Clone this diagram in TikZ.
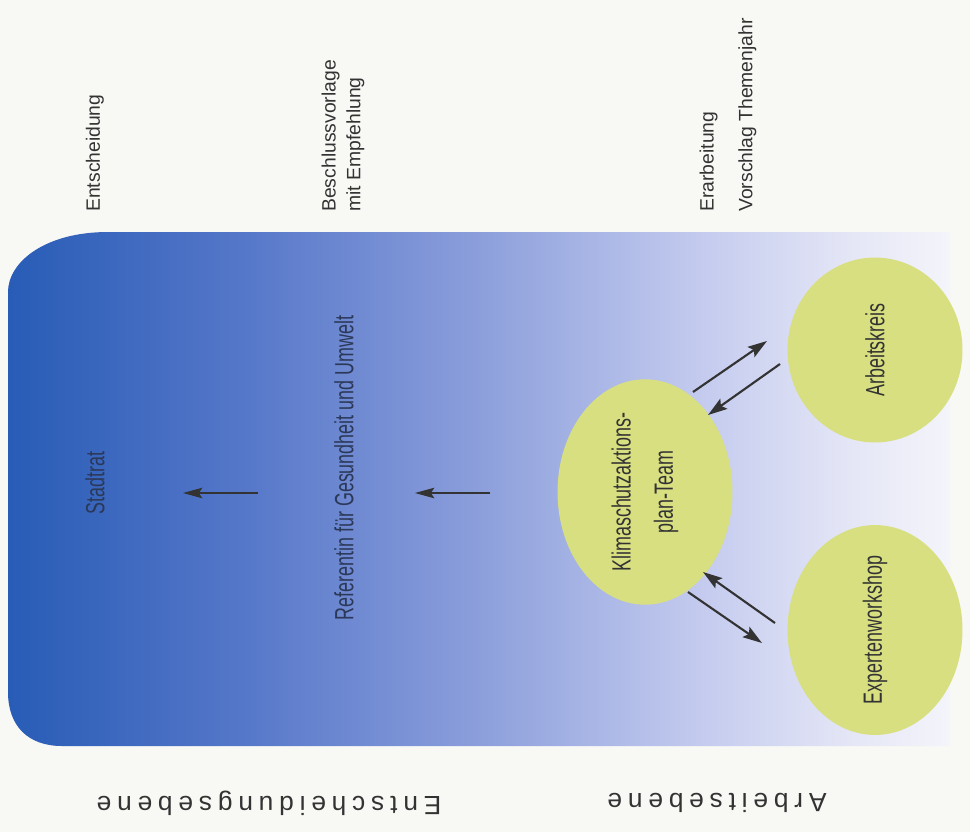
\documentclass[tikz,border=0pt]{standalone}
\usepackage{fontspec}
\setmainfont{Liberation Sans}
\newfontfamily\schmal[FakeStretch=0.68]{Liberation Sans}
\newfontfamily\gesperrt[LetterSpace=22]{Liberation Sans}
\usetikzlibrary{shapes.geometric,arrows.meta,calc}

\definecolor{papier}{HTML}{F8F8F5}
\definecolor{blau0}{HTML}{285CB6}
\definecolor{blau1}{HTML}{5577C9}
\definecolor{blau2}{HTML}{8B9EDB}
\definecolor{blau3}{HTML}{C3CAEE}
\definecolor{blau4}{HTML}{E4E6F6}
\definecolor{blau5}{HTML}{F4F4FA}
\definecolor{gelb}{HTML}{D8DF80}
\definecolor{tinte}{HTML}{333333}
\definecolor{navy}{HTML}{2B3858}
\pgfdeclarehorizontalshading{himmel}{100bp}{color(0bp)=(blau0); color(25bp)=(blau0); color(37.4bp)=(blau1); color(49.8bp)=(blau2); color(61.6bp)=(blau3); color(69.6bp)=(blau4); color(75bp)=(blau5); color(100bp)=(blau5)}

\begin{document}
\begin{tikzpicture}[x=0.02cm, y=-0.02cm, blob/.style = {ellipse, fill=gelb, rotate=90, minimum width=3.9cm, minimum height=3.5cm, inner sep=0pt, text=tinte, font=\schmal\fontsize{15}{24}\selectfont, align=center}, schmaltext/.style = {rotate=90, text=navy, font=\schmal\fontsize{15}{18}\selectfont}, schritt/.style = {rotate=90, anchor=west, inner sep=0pt, text=tinte, align=left, font=\fontsize{11}{14}\selectfont}, ebene/.style = {rotate=180, text=tinte, font=\gesperrt\fontsize{15}{18}\selectfont}, line/.style = {draw=tinte, line width=1.2pt, -{Stealth[length=11pt,width=7pt,inset=2pt]}}, thinline/.style = {draw=tinte, line width=0.6pt, -{Stealth[length=11pt,width=6pt,inset=2pt]}}]
  \fill[papier] (0,0) rectangle (970,832);
  \useasboundingbox (0,0) rectangle (970,832);
  % Hintergrund
  \shade[shading=himmel] (950,232) -- (108,232) .. controls (45,232) and (8,262) .. (8,292) -- (8,692) .. controls (8,726) and (28,746) .. (62,746) -- (950,746) -- cycle;

  \node[schritt] (entsch) at (95,212) {Entscheidung};
  \node[schritt] (vorlage) at (343,212) {Beschlussvorlage\\mit Empfehlung};
  \node[schritt] (erarb) at (728,212) {Erarbeitung\\[8pt]Vorschlag Themenjahr};

  \node[schmaltext] (rat) at (95,483) {Stadtrat};
  \node[schmaltext] (referentin) at (344,468) {Referentin für Gesundheit und Umwelt};
  \node[blob] (team) at (645,492) {Klimaschutzaktions-\\plan-Team};
  \node[blob, minimum width=3.7cm] (arbeitskreis) at (875,350) {Arbeitskreis};
  \node[blob] (workshop) at (875,630) {Expertenworkshop};

  \node[ebene] (ebene1) at (269,803) {Entscheidungsebene};
  \node[ebene] (ebene2) at (717,803) {Arbeitsebene};

  \path[thinline] ($(team)+(-155,1)$) -- ($(referentin)+(71,25)$);
  \path[thinline] ($(referentin)+(-86,25)$) -- ($(rat)+(88,10)$);
  \path[line] ($(team)+(48,-100)$) -- ($(arbeitskreis)+(-108,-9)$);
  \path[line] ($(arbeitskreis)+(-95,14)$) -- ($(team)+(63,-77)$);
  \path[line] ($(workshop)+(-100,-7)$) -- ($(team)+(58,80)$);
  \path[line] ($(team)+(43,100)$) -- ($(workshop)+(-113,13)$);
\end{tikzpicture}
\end{document}
